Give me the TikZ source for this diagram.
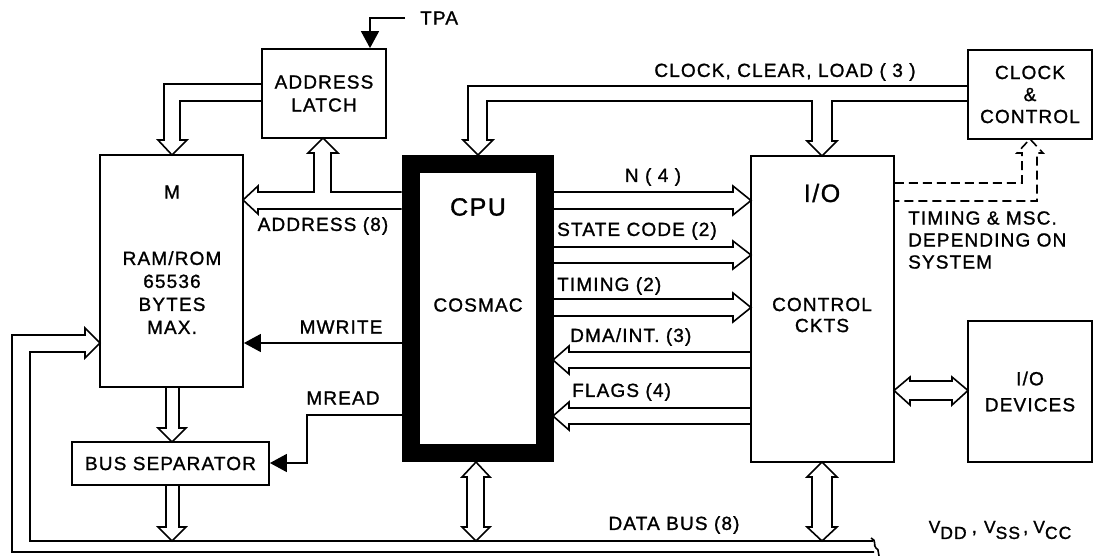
\documentclass[tikz,border=0pt]{standalone}
\usepackage{fontspec}
\setmainfont[LetterSpace=6,FakeBold=1.2]{Liberation Sans}
\usetikzlibrary{arrows.meta}
\newcommand\vsub[1]{{\fontsize{17.5}{17.5}\selectfont V\raisebox{-6pt}{#1}}}
\begin{document}
\begin{tikzpicture}[x=1pt,y=-1pt,
  box/.style={draw,line width=1.8pt,inner sep=0pt,align=center,font=\fontsize{19}{23}\selectfont},
  lbl/.style={inner sep=0pt,font=\fontsize{19}{23}\selectfont,align=center},
  big/.style={inner sep=0pt,font=\fontsize{25}{28}\selectfont},
  bus/.style={draw,line width=1.6pt,line join=miter},
  sig/.style={draw,line width=1.6pt,-{Triangle[length=17pt,width=18pt]}},
  dsh/.style={draw,line width=1.6pt,line join=miter,dash pattern=on 9pt off 5pt}]
\useasboundingbox (0,0) rectangle (1093,555);
% boxes
\node[box,minimum width=124pt,minimum height=89pt] (latch) at (324,93.5) {ADDRESS\\LATCH};
\node[box,minimum width=143pt,minimum height=232pt] (M) at (171.5,271) {};
\node[box,minimum width=143pt,minimum height=306pt] (io) at (822.5,309) {};
\node[box,minimum width=124pt,minimum height=89pt,font=\fontsize{19}{22}\selectfont] (cc) at (1030,94.5) {CLOCK\\\&\\CONTROL};
\node[box,minimum width=124pt,minimum height=141pt,font=\fontsize{19}{26}\selectfont] (dev) at (1030,391.5) {I/O\\DEVICES};
\node[box,minimum width=197pt,minimum height=43pt] (sep) at (170.5,463.5) {BUS SEPARATOR};
% CPU thick box
\node[draw,line width=18pt,minimum width=134pt,minimum height=289pt,inner sep=0pt] (cpu) at (477.5,308.5) {};
% texts inside boxes
\node[lbl] (mt) at (172,192) {M};
\node[lbl] (mt2) at (172,292.5) {RAM/ROM\\65536\\BYTES\\MAX.};
\node[big] (cput) at (478,207) {CPU};
\node[lbl] (cos) at (478,305) {COSMAC};
\node[big] (iot) at (822,193) {I/O};
\node[lbl,font=\fontsize{19}{21}\selectfont] (ctl) at (822,315) {CONTROL\\CKTS};
% labels
\node[lbl,anchor=west] (tpa) at (420,18) {TPA};
\node[lbl] (addr) at (323,226) {ADDRESS (8)};
\node[lbl] (clk) at (785,72) {CLOCK, CLEAR, LOAD ( 3 )};
\node[lbl,anchor=west,align=left,font=\fontsize{19}{22}\selectfont] (tm) at (908,240) {TIMING \& MSC.\\DEPENDING ON\\SYSTEM};
\node[lbl] (n4) at (653,177) {N ( 4 )};
\node[lbl,anchor=west] (sc) at (557,231) {STATE CODE (2)};
\node[lbl,anchor=west] (tg) at (557,286) {TIMING (2)};
\node[lbl,anchor=west] (dma) at (570,337) {DMA/INT. (3)};
\node[lbl,anchor=west] (fl) at (572,392) {FLAGS (4)};
\node[lbl] (mw) at (341,327) {MWRITE};
\node[lbl] (mr) at (343,398) {MREAD};
\node[lbl] (db) at (674,525) {DATA BUS (8)};
\node[lbl] (vv) at (1000,530) {\vsub{DD}\hspace{5pt},\hspace{7pt}\vsub{SS}\hspace{3pt},\hspace{5pt}\vsub{CC}};
% TPA
\coordinate (tpaend) at (405,18);
\draw[sig] (tpaend) -- (370,18) -- (latch.north -| 370,0);
% latch -> M
\path[bus] (latch.west |- 0,84) -- (164,84) -- (164,140) -- (158,140) -- (172,155) -- (187,140) -- (180,140) -- (180,101) -- (latch.west |- 0,101);
% address bus with branch to latch
\path[bus] (cpu.west |- 0,192) -- (331,192) -- (331,153) -- (338,153) -- (323,138) -- (308,153) -- (314,153) -- (314,192) -- (258,192) -- (258,186) -- (243,200) -- (258,214) -- (258,209) -- (cpu.west |- 0,209);
% clock bus
\path[bus] (cc.west |- 0,86) -- (468,86) -- (468,140) -- (463,140) -- (478,155) -- (493,140) -- (487,140) -- (487,101) -- (812,101) -- (812,141) -- (807,141) -- (822,156) -- (837,141) -- (832,141) -- (832,101) -- (cc.west |- 0,101);
% CPU -> IO buses
\path[bus] (cpu.east |- 0,192) -- (733,192) -- (733,186) -- (751,200.5) -- (733,215) -- (733,209) -- (cpu.east |- 0,209);
\path[bus] (cpu.east |- 0,247) -- (733,247) -- (733,241) -- (751,255) -- (733,269) -- (733,263) -- (cpu.east |- 0,263);
\path[bus] (cpu.east |- 0,299) -- (733,299) -- (733,293) -- (751,307.5) -- (733,322) -- (733,316) -- (cpu.east |- 0,316);
\path[bus] (io.west |- 0,352) -- (569,352) -- (569,346) -- (553,360) -- (569,374) -- (569,368) -- (io.west |- 0,368);
\path[bus] (io.west |- 0,408) -- (569,408) -- (569,402) -- (553,416) -- (569,430) -- (569,424) -- (io.west |- 0,424);
% dashed timing
\path[dsh] (io.east |- 0,183) -- (1022,183) -- (1022,153) -- (1017,153) -- (1030,139) -- (1043,153) -- (1037,153) -- (1037,201) -- (io.east |- 0,201);
% MWRITE, MREAD
\draw[sig] (cpu.west |- 0,343) -- (M.east |- 0,343);
\draw[sig] (cpu.west |- 0,415) -- (307,415) -- (307,463) -- (sep.east |- 0,463);
% M -> bus separator
\path[bus] (166,387) -- (166,428) -- (158,428) -- (172,442) -- (186,428) -- (179,428) -- (179,387);
% bus separator -> data bus
\path[bus] (166,485) -- (166,527) -- (158,527) -- (172,541) -- (186,527) -- (179,527) -- (179,485);
% data bus loop into M
\coordinate (brk) at (873,541);
\path[bus] (brk) -- (30,541) -- (30,352) -- (85,352) -- (85,358) -- (100,343) -- (85,328) -- (85,335) -- (12,335) -- (12,552) -- (874,552);
\draw[line width=1.6pt] (871,538) .. controls (877,540) and (873,546) .. (876,548) .. controls (880,550) and (877,553) .. (879,556);
% CPU <-> data bus
\path[bus] (476,462) -- (490,477) -- (484,477) -- (484,527) -- (490,527) -- (476,541) -- (462,527) -- (467,527) -- (467,477) -- (462,477) -- cycle;
% IO <-> data bus
\path[bus] (822,462) -- (837,477) -- (832,477) -- (832,527) -- (837,527) -- (822,541) -- (807,527) -- (812,527) -- (812,477) -- (807,477) -- cycle;
% IO <-> devices
\path[bus] (894,390.5) -- (910,377) -- (910,381) -- (952,381) -- (952,377) -- (968,390.5) -- (952,405) -- (952,400) -- (910,400) -- (910,405) -- cycle;
\end{tikzpicture}
\end{document}
